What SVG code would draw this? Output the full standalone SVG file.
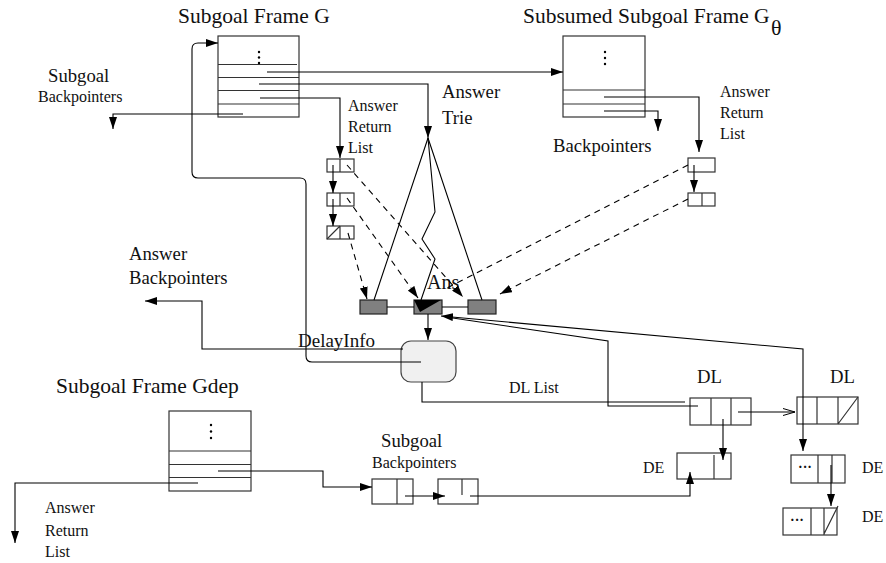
<svg xmlns="http://www.w3.org/2000/svg" width="886" height="563" viewBox="0 0 886 563">
  <style>
    text { font-family: "Liberation Serif", "Times New Roman", serif; fill: #111; }
    .t21 { font-size: 21.5px; }
    .t19 { font-size: 18.7px; }
    .t16 { font-size: 16px; }
    .box { fill: #fff; stroke: #333; stroke-width: 1.2; }
    .cell { fill: #fff; stroke: #333; stroke-width: 1.2; }
    .sep { stroke: #333; stroke-width: 1.2; fill: none; }
    .ans { fill: #808080; stroke: #222; stroke-width: 1.2; }
    .dinfo { fill: #f0f0f0; stroke: #444; stroke-width: 1.2; }
    .ln { fill: none; stroke: #000; stroke-width: 1.1; }
    .arr { marker-end: url(#ah); }
    .dash { fill: none; stroke: #000; stroke-width: 1.1; stroke-dasharray: 6 5; }
  </style>
  <defs>
    <marker id="ah" markerWidth="12" markerHeight="8" refX="12" refY="4" orient="auto" markerUnits="userSpaceOnUse">
      <path d="M0,0 L12,4 L0,8 z" fill="#000"/>
    </marker>
    <marker id="open" markerWidth="12" markerHeight="8" refX="12" refY="4" orient="auto" markerUnits="userSpaceOnUse">
      <path d="M0,0.5 L12,4 L0,7.5" fill="none" stroke="#000" stroke-width="1"/>
    </marker>
  </defs>

  <!-- labels -->
  <text class="t21" x="178" y="23">Subgoal Frame G</text>
  <text class="t21" x="523" y="23">Subsumed Subgoal Frame G<tspan font-size="22" x="771" y="35">θ</tspan></text>
  <text class="t19" x="48" y="82">Subgoal</text>
  <text class="t16" x="38" y="102">Backpointers</text>
  <text class="t16" x="348" y="111">Answer</text>
  <text class="t16" x="348" y="132">Return</text>
  <text class="t16" x="348" y="153">List</text>
  <text class="t19" x="442" y="98">Answer</text>
  <text class="t19" x="442" y="124">Trie</text>
  <text class="t19" x="553" y="152">Backpointers</text>
  <text class="t16" x="720" y="97">Answer</text>
  <text class="t16" x="720" y="118">Return</text>
  <text class="t16" x="720" y="139">List</text>
  <text class="t19" x="129" y="260">Answer</text>
  <text class="t19" x="129" y="284">Backpointers</text>
  <text x="427" y="289" font-size="20">Ans</text>
  <text x="298" y="347" font-size="19">DelayInfo</text>
  <text class="t16" x="509" y="393">DL List</text>
  <text class="t19" x="697" y="383">DL</text>
  <text class="t19" x="830" y="383">DL</text>
  <text class="t21" x="56" y="393">Subgoal Frame Gdep</text>
  <text class="t19" x="381" y="447">Subgoal</text>
  <text class="t16" x="372" y="468">Backpointers</text>
  <text class="t16" x="643" y="473">DE</text>
  <text class="t16" x="862" y="473">DE</text>
  <text class="t16" x="862" y="522">DE</text>
  <text class="t16" x="45" y="513">Answer</text>
  <text class="t16" x="45" y="536">Return</text>
  <text class="t16" x="45" y="557">List</text>

  <!-- Subgoal Frame G -->
  <g id="frame-g">
    <rect class="box" x="218" y="36" width="81" height="81"/>
    <path class="sep" d="M218,64.5 H297 M218,77.5 H299 M218,90.5 H299 M218,104 H299"/>
    <circle cx="259" cy="52" r="1.2" fill="#000"/>
    <circle cx="259" cy="57.5" r="1.2" fill="#000"/>
    <circle cx="259" cy="63" r="1.2" fill="#000"/>
  </g>

  <!-- Subsumed Subgoal Frame -->
  <g id="frame-gtheta">
    <rect class="box" x="563" y="36" width="82" height="81"/>
    <path class="sep" d="M563,90 H645 M563,104 H645"/>
    <circle cx="605" cy="52" r="1.2" fill="#000"/>
    <circle cx="605" cy="58" r="1.2" fill="#000"/>
    <circle cx="605" cy="64" r="1.2" fill="#000"/>
  </g>

  <!-- Subgoal Frame Gdep -->
  <g id="frame-gdep">
    <rect class="box" x="169" y="411" width="82" height="80"/>
    <path class="sep" d="M169,451 H251 M169,464.5 H251 M169,477.5 H251"/>
    <circle cx="211" cy="425" r="1.2" fill="#000"/>
    <circle cx="211" cy="431.5" r="1.2" fill="#000"/>
    <circle cx="211" cy="438" r="1.2" fill="#000"/>
  </g>

  <!-- answer return list of G -->
  <g id="arl-1">
    <rect class="cell" x="327" y="159" width="27" height="13"/>
    <path class="sep" d="M340,159 V172"/>
  </g>
  <g id="arl-2">
    <rect class="cell" x="327" y="193" width="27" height="13"/>
    <path class="sep" d="M340,193 V206"/>
  </g>
  <g id="arl-3">
    <rect class="cell" x="327" y="226" width="27" height="13"/>
    <path class="sep" d="M340,226 V239 M327,239 L340,226"/>
  </g>

  <!-- answer return list of the subsumed frame -->
  <g id="arl-s1">
    <rect class="cell" x="688" y="158" width="27" height="14"/>
  </g>
  <g id="arl-s2">
    <rect class="cell" x="688" y="193" width="27" height="13"/>
    <path class="sep" d="M702,193 V206"/>
  </g>

  <!-- answer trie leaves -->
  <g id="leaf-1"><rect class="ans" x="360" y="300" width="27" height="14"/></g>
  <g id="leaf-ans"><rect class="ans" x="414" y="300" width="28" height="14"/></g>
  <g id="leaf-3"><rect class="ans" x="468" y="300" width="28" height="14"/></g>

  <!-- delay info -->
  <g id="delay-info">
    <rect class="dinfo" x="401" y="341" width="55" height="41" rx="10" ry="10"/>
  </g>

  <!-- delay lists -->
  <g id="dl-1">
    <rect class="cell" x="690" y="398" width="61" height="27"/>
    <path class="sep" d="M711,398 V425 M731,398 V425"/>
  </g>
  <g id="dl-2">
    <rect class="cell" x="797" y="397" width="61" height="27"/>
    <path class="sep" d="M817,397 V424 M838,397 V424 M838,424 L858,397"/>
  </g>

  <!-- delay elements -->
  <g id="de-1">
    <rect class="cell" x="677" y="453" width="54" height="26"/>
    <path class="sep" d="M714,455 V479"/>
  </g>
  <g id="de-2">
    <rect class="cell" x="791" y="455" width="54" height="28"/>
    <path class="sep" d="M818,455 V483 M832,455 V483"/>
    <text x="798" y="472" font-size="14" font-weight="bold">···</text>
  </g>
  <g id="de-3">
    <rect class="cell" x="783" y="508" width="54" height="27"/>
    <path class="sep" d="M811,508 V535 M824,508 V535 M824,534 L838,506"/>
    <text x="790" y="525" font-size="14" font-weight="bold">···</text>
  </g>

  <!-- subgoal backpointers of Gdep -->
  <g id="sb-1">
    <rect class="cell" x="372" y="479" width="41" height="25"/>
    <path class="sep" d="M397,479 V504"/>
  </g>
  <g id="sb-2">
    <rect class="cell" x="438" y="479" width="40" height="25"/>
    <path class="sep" d="M462,479 V495"/>
  </g>

  <!-- connectors -->
  <g id="connectors">
    <path class="ln arr" d="M267,72 H563"/>
    <path class="ln arr" d="M259,84 H428 V138"/>
    <path class="ln arr" d="M260,98 H340 V158"/>
    <path class="ln arr" d="M243,114 H113 V129"/>
    <path class="ln arr" d="M421,362 H312 Q306,362 306,356 V184 Q306,178 300,178 H198 Q192,178 192,172 V49 Q192,43 198,43 H218"/>
    <path class="ln arr" d="M403,349 H202 V301 H145"/>

    <path class="ln arr" d="M604,97 H699 V152"/>
    <path class="ln arr" d="M604,111 H658 V131"/>
    <path class="ln arr" d="M694,165 V192"/>

    <path class="ln arr" d="M333,165 V193"/>
    <path class="ln arr" d="M333,199 V226"/>

    <path class="dash arr" d="M347,165 L463,297"/>
    <path class="dash arr" d="M347,198 L418,298"/>
    <path class="dash arr" d="M348,233 L367,299"/>
    <path class="dash" d="M688,165 L445,289"/>
    <path class="dash arr" d="M688,199 L500,294"/>

    <path class="ln" d="M428,138 L374,300"/>
    <path class="ln" d="M428,138 L482,300"/>
    <path class="ln" d="M428,138 L435,212 L422,239 L435,259 L421,300"/>
    <polygon points="414,300 441,300 420,312" fill="#000"/>

    <path class="ln" d="M387,307 H414 M442,307 H468"/>
    <path class="ln arr" d="M428,314 V340"/>

    <path class="ln" d="M422,382 V402 H685"/>
    <path class="ln" d="M698,406 H608 V341 L446,317"/>
    <path class="ln arr" d="M803,412 V349 L441,316"/>
    <path class="ln" d="M738,412 H795" marker-end="url(#open)"/>
    <path class="ln arr" d="M723,419 V460"/>
    <path class="ln arr" d="M803,412 V451"/>
    <path class="ln arr" d="M831,465 V506"/>

    <path class="ln arr" d="M218,471 H323 V487 H372"/>
    <path class="ln arr" d="M198,483 H15 V543"/>
    <path class="ln arr" d="M405,496 H445"/>
    <path class="ln arr" d="M470,496 H690 V472"/>
  </g>
</svg>
